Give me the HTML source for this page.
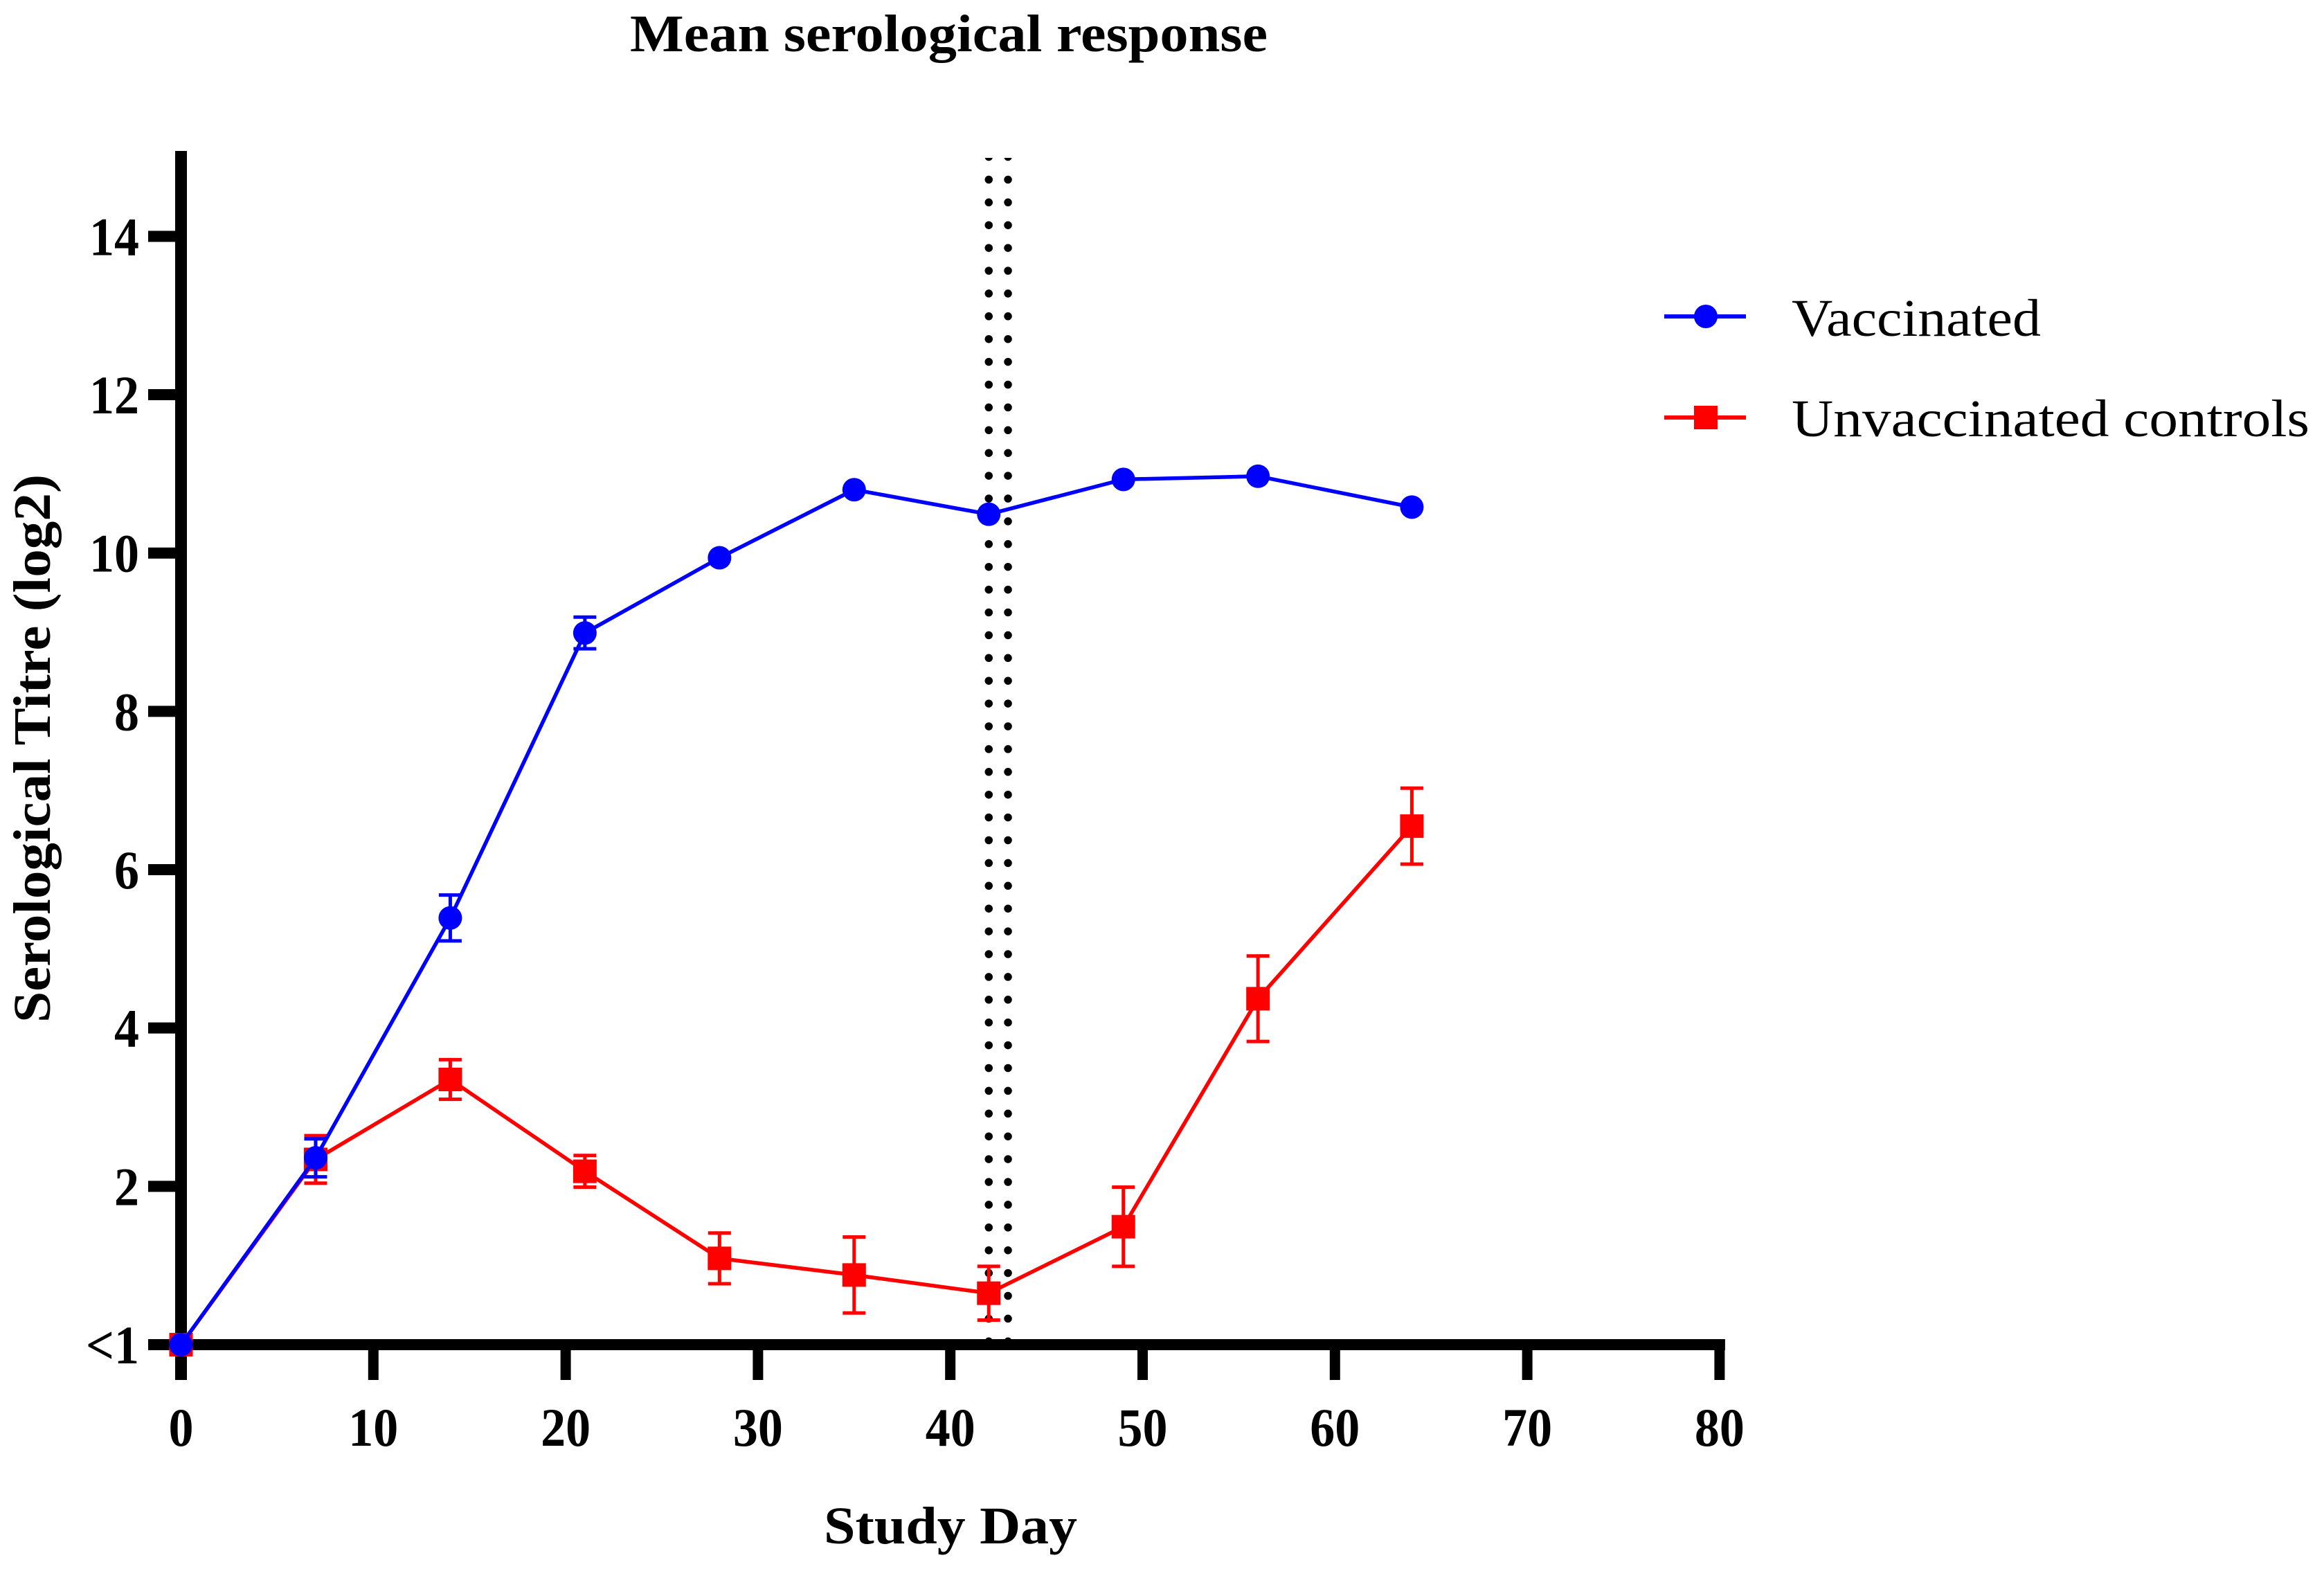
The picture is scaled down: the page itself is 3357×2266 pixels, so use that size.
<!DOCTYPE html>
<html lang="en">
<head>
<meta charset="utf-8">
<title>Mean serological response</title>
<style>
  html, body { margin: 0; padding: 0; background: #fff; }
  svg { display: block; }
  text { font-family: "Liberation Serif", serif; fill: #000; }
  .bold { font-weight: 700; }
</style>
</head>
<body>
<svg id="chart" xmlns="http://www.w3.org/2000/svg" width="3357" height="2266" viewBox="0 0 3357 2266">
  <rect x="0" y="0" width="3357" height="2266" fill="#fff"/>
  <text class="bold" x="910" y="74" font-size="76" textLength="921" lengthAdjust="spacingAndGlyphs">Mean serological response</text>
  <text class="bold" transform="translate(72,1477) rotate(-90)" font-size="76" textLength="792" lengthAdjust="spacingAndGlyphs">Serological Titre (log2)</text>
  <text class="bold" x="1190" y="2229" font-size="76" textLength="366" lengthAdjust="spacingAndGlyphs">Study Day</text>
  <defs>
    <clipPath id="plot-clip"><rect x="1300" y="228" width="300" height="1714"/></clipPath>
  </defs>
  <g id="reference-lines" clip-path="url(#plot-clip)"></g>
  <g id="axes"></g>
  <g id="series"></g>
  <g>
    <g>
      <line x1="2404" y1="457" x2="2522" y2="457" stroke="#0000ff" stroke-width="6"/>
      <circle cx="2464" cy="457" r="17" fill="#0000ff"/>
      <text x="2588" y="485" font-size="76" textLength="360" lengthAdjust="spacingAndGlyphs">Vaccinated</text>
    </g>
    <g>
      <line x1="2404" y1="603" x2="2522" y2="603" stroke="#ff0000" stroke-width="6"/>
      <rect x="2447" y="586" width="34" height="34" fill="#ff0000"/>
      <text x="2588" y="630" font-size="76" textLength="748" lengthAdjust="spacingAndGlyphs">Unvaccinated controls</text>
    </g>
  </g>
</svg>
<script>
const studyDays = [0, 7, 14, 21, 28, 35, 42, 49, 56, 64];
const vaccinatedMeans = [0, 2.36, 5.39, 8.99, 9.94, 10.8, 10.49, 10.93, 10.97, 10.58];
const vaccinatedErrors = [0, 0.24, 0.29, 0.2, 0, 0, 0, 0, 0, 0];
const controlMeans = [0, 2.34, 3.35, 2.19, 1.09, 0.88, 0.65, 1.49, 4.37, 6.55];
const controlErrors = [0, 0.3, 0.25, 0.2, 0.32, 0.48, 0.34, 0.5, 0.54, 0.48];
const referenceDays = [42, 43];
const xTickValues = [0, 10, 20, 30, 40, 50, 60, 70, 80];
const yTickValues = [0, 2, 4, 6, 8, 10, 12, 14];
const yTickLabels = ['<1', '2', '4', '6', '8', '10', '12', '14'];
const yAxisMax = 15;

const NS = 'http://www.w3.org/2000/svg';
function xScale(day) { return 261.5 + 27.78 * day; }
function yScale(value) { return 1942 - 114.33 * value; }
function make(tag, attrs, parent) {
  const el = document.createElementNS(NS, tag);
  for (const key in attrs) el.setAttribute(key, attrs[key]);
  parent.appendChild(el);
  return el;
}

const refGroup = document.getElementById('reference-lines');
referenceDays.forEach(function (day) {
  const el = make('line', {
    x1: xScale(day), x2: xScale(day), y1: 226.5, y2: 1942,
    stroke: '#000', 'stroke-width': 11.5, 'stroke-linecap': 'round', 'stroke-dasharray': '0 32.9'
  }, refGroup);
  
  
});

const axes = document.getElementById('axes');
const yAxisLine = make('line', { x1: xScale(0), x2: xScale(0), y1: yScale(yAxisMax) - 9, y2: 1993, stroke: '#000', 'stroke-width': 17 }, axes);



const xAxisLine = make('line', { x1: 214, x2: xScale(80) + 8, y1: yScale(0), y2: yScale(0), stroke: '#000', 'stroke-width': 16 }, axes);



xTickValues.forEach(function (tick) {
  const mark = make('line', { x1: xScale(tick), x2: xScale(tick), y1: yScale(0), y2: 1993, stroke: '#000', 'stroke-width': 15 }, axes);
  
  
  const text = String(tick);
  const label = make('text', { x: xScale(tick), y: 2088, 'font-size': 78, 'text-anchor': 'middle', 'class': 'bold', textLength: 36 * text.length, lengthAdjust: 'spacingAndGlyphs' }, axes);
  label.textContent = text;
  
  
});

yTickValues.forEach(function (tick, i) {
  const mark = make('line', { x1: 214, x2: xScale(0), y1: yScale(tick), y2: yScale(tick), stroke: '#000', 'stroke-width': 16 }, axes);
  
  
  const text = yTickLabels[i];
  const label = make('text', { x: 201, y: yScale(tick) + 27, 'font-size': 78, 'text-anchor': 'end', 'class': 'bold', textLength: text === '<1' ? 77 : 36 * text.length, lengthAdjust: 'spacingAndGlyphs' }, axes);
  label.textContent = text;
  
  
});

const seriesRoot = document.getElementById('series');
function drawSeries(key, color, means, errors, markerShape) {
  const group = make('g', {}, seriesRoot);
  
  

  const points = means.map(function (v, i) { return xScale(studyDays[i]) + ',' + yScale(v); }).join(' ');
  const path = make('polyline', { points: points, fill: 'none', stroke: color, 'stroke-width': 5.5, 'stroke-linejoin': 'round' }, group);
  
  

  means.forEach(function (v, i) {
    const x = xScale(studyDays[i]);
    const top = yScale(v + errors[i]);
    const bottom = yScale(v - errors[i]);
    if (errors[i] > 0) {
      const stem = make('line', { x1: x, x2: x, y1: top, y2: bottom, stroke: color, 'stroke-width': 5 }, group);
      
      
      const capTop = make('line', { x1: x - 16.5, x2: x + 16.5, y1: top, y2: top, stroke: color, 'stroke-width': 5 }, group);
      
      
      const capBottom = make('line', { x1: x - 16.5, x2: x + 16.5, y1: bottom, y2: bottom, stroke: color, 'stroke-width': 5 }, group);
      
      
    }
    let marker;
    if (markerShape === 'circle') {
      marker = make('circle', { cx: x, cy: yScale(v), r: 17, fill: color }, group);
    } else {
      marker = make('rect', { x: x - 17, y: yScale(v) - 17, width: 34, height: 34, fill: color }, group);
    }
    
    
  });
}
drawSeries('unvaccinated-controls', '#ff0000', controlMeans, controlErrors, 'square');
drawSeries('vaccinated', '#0000ff', vaccinatedMeans, vaccinatedErrors, 'circle');
</script>
</body>
</html>
